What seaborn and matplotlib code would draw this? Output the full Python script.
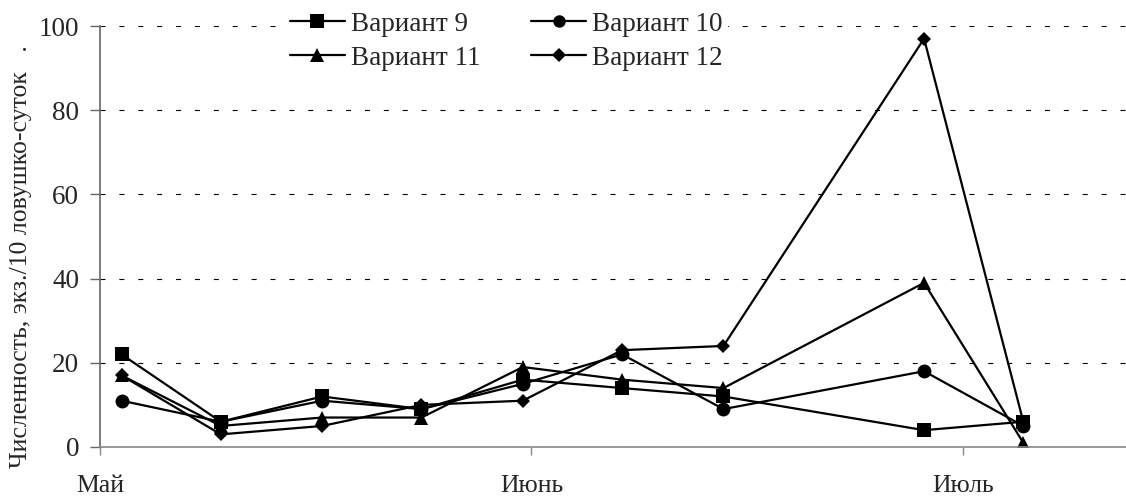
# -*- coding: utf-8 -*-
# Численность по вариантам (линейный график, seaborn)
import numpy as np
import pandas as pd
import seaborn as sns
import matplotlib
matplotlib.use("Agg")
import matplotlib.pyplot as plt

# данные
sample_pos = [0.05, 0.28, 0.515, 0.745, 0.98, 1.21, 1.445, 1.91, 2.14]  # месяцы от 1 мая
month_ticks = [0, 1, 2]
month_labels = ['Май', 'Июнь', 'Июль']
variants = ['Вариант 9', 'Вариант 10', 'Вариант 11', 'Вариант 12']
v9 = [22, 6, 12, 9, 16, 14, 12, 4, 6]
v10 = [11, 6, 11, 9, 15, 22, 9, 18, 5]
v11 = [17, 5, 7, 7, 19, 16, 14, 39, 1]
v12 = [17, 3, 5, 10, 11, 23, 24, 97, 6]

df = pd.DataFrame({
    'x': sample_pos * 4,
    'y': v9 + v10 + v11 + v12,
    'variant': np.repeat(variants, len(sample_pos)),
})

sns.set_style("white")
plt.rcParams['font.family'] = ['Liberation Serif', 'DejaVu Serif']

fig = plt.figure(figsize=(11.26, 4.97), dpi=100)
ax = fig.add_axes([100 / 1126, 50 / 497, 1026 / 1126, 421 / 497])

markers = {'Вариант 9': 's', 'Вариант 10': 'o', 'Вариант 11': '^', 'Вариант 12': 'D'}
sizes = {'s': 10.5, 'o': 10, '^': 10.5, 'D': 7.5}

sns.lineplot(data=df, x='x', y='y', hue='variant', style='variant',
             markers=markers, dashes=False, palette=['black'] * 4,
             linewidth=1.6, markeredgewidth=0, ax=ax, legend=True, sort=False)

for ln in ax.lines:
    m = ln.get_marker()
    if m in sizes:
        ln.set_markersize(sizes[m])

# оси
ax.set_ylim(0, 100)
ax.set_xlim(0, 2.378)
ax.set_yticks([0, 20, 40, 60, 80, 100])
ax.set_xticks(month_ticks)
ax.set_xticklabels(month_labels)
ax.set_xlabel('')
ax.set_ylabel('Численность, экз./10 ловушко-суток   .', fontsize=18.5)
ax.yaxis.set_label_coords(-0.066, 0.452)

ax.yaxis.grid(True, color='black', linewidth=0.8, linestyle=(0, (4.5, 12.5)))
ax.xaxis.grid(False)
for s in ['top', 'right']:
    ax.spines[s].set_visible(False)
ax.spines['left'].set_color('#666666')
ax.spines['bottom'].set_color('#888888')
ax.spines['left'].set_linewidth(1.2)
ax.spines['bottom'].set_linewidth(1.2)
ax.tick_params(axis='y', direction='out', length=7, width=1, color='#666666',
               labelsize=19.5, pad=8, left=True)
ax.tick_params(axis='x', direction='out', length=6, width=1, color='#888888',
               labelsize=18.5, pad=14.5, bottom=True)

# легенда: строки 9,10 / 11,12
handles, labels = ax.get_legend_handles_labels()
order = [0, 2, 1, 3]
leg = ax.legend([handles[i] for i in order], [labels[i] for i in order],
                ncol=2, frameon=True, facecolor='white', edgecolor='none',
                framealpha=1, fancybox=False, fontsize=19.5,
                loc='upper center', bbox_to_anchor=(0.396, 1.079),
                borderpad=0.2, handlelength=2.0, handletextpad=0.22,
                columnspacing=1.9, labelspacing=0.33)
for h in leg.get_lines():
    m = h.get_marker()
    h.set_color('black')
    h.set_linewidth(1.6)
    if m in sizes:
        h.set_markersize(sizes[m] * 0.9)

fig.savefig('out.png', dpi=100)
